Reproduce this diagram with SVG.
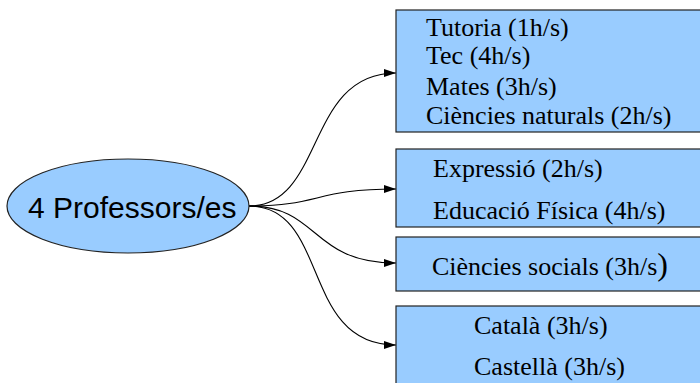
<svg xmlns="http://www.w3.org/2000/svg" width="700" height="383" viewBox="0 0 700 383">
<style>
.box{fill:#99ccff;stroke:#222;stroke-width:1.2}
.t{font-family:"Liberation Serif","Times New Roman",serif;font-size:26px;fill:#000}
.s{font-family:"Liberation Sans",Arial,sans-serif;font-size:30px;fill:#000}
.c{fill:none;stroke:#000;stroke-width:1.1}
</style>
<defs>
<marker id="ah" viewBox="0 0 12 8" refX="12" refY="4" markerWidth="12" markerHeight="8" markerUnits="userSpaceOnUse" orient="auto">
<path d="M0,0 L12,4 L0,8 Z" fill="#000"/>
</marker>
</defs>
<rect width="700" height="383" fill="#fff"/>
<g id="connectors">
<path class="c" d="M249,206 C325,206 305,73 396,73" marker-end="url(#ah)"/>
<path class="c" d="M249,206 C320,206 315,189 396,189" marker-end="url(#ah)"/>
<path class="c" d="M249,206 C320,206 310,263 396,263" marker-end="url(#ah)"/>
<path class="c" d="M249,206 C330,206 300,345 396,345" marker-end="url(#ah)"/>
</g>
<g id="professors">
<ellipse cx="128" cy="206" rx="121" ry="47" fill="#99ccff" stroke="#222" stroke-width="1.2"/>
<text class="s" x="28" y="218">4 Professors/es</text>
</g>
<g id="box1">
<rect class="box" x="396" y="10" width="310" height="122"/>
<text class="t" x="426" y="36">Tutoria (1h/s)</text>
<text class="t" x="426" y="63.5">Tec (4h/s)</text>
<text class="t" x="426" y="94.5">Mates (3h/s)</text>
<text class="t" x="426" y="123.5">Ciències naturals (2h/s)</text>
</g>
<g id="box2">
<rect class="box" x="396" y="149" width="310" height="78"/>
<text class="t" x="433" y="176.5">Expressió (2h/s)</text>
<text class="t" x="433" y="219">Educació Física (4h/s)</text>
</g>
<g id="box3">
<rect class="box" x="396" y="237" width="310" height="54"/>
<text class="t" x="432" y="275">Ciències socials (3h/s<tspan style="font-size:32px">)</tspan></text>
</g>
<g id="box4">
<rect class="box" x="396" y="306" width="310" height="90"/>
<text class="t" x="474" y="333.5">Català (3h/s)</text>
<text class="t" x="474" y="375">Castellà (3h/s)</text>
</g>
</svg>
